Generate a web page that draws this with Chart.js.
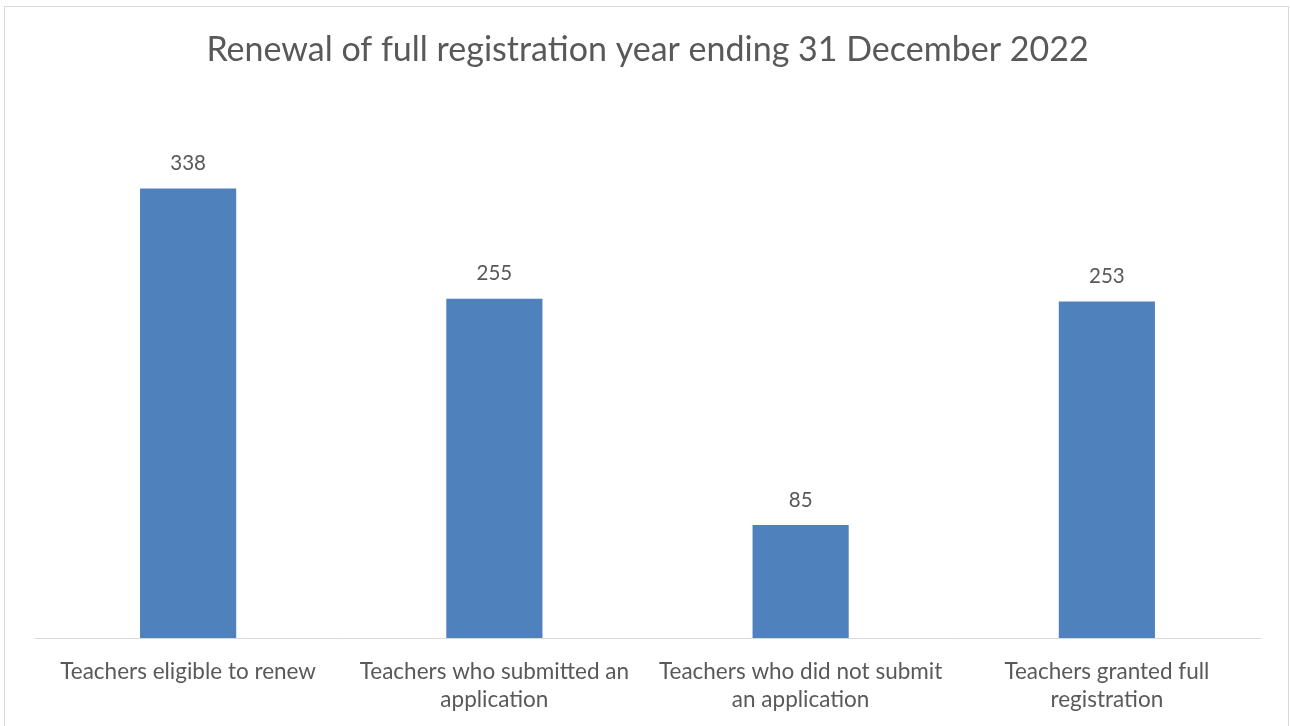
<!DOCTYPE html>
<html>
<head>
<meta charset="utf-8">
<title>Renewal of full registration</title>
<script src="https://cdn.jsdelivr.net/npm/chart.js@4"></script>
<style>
  html, body { margin: 0; padding: 0; background: #fff; }
  canvas { display: block; }
</style>
</head>
<body>
<canvas id="grafico" width="1290" height="726"></canvas>
<script>
const categorias = [
  'Teachers eligible to renew',
  ['Teachers who submitted an', 'application'],
  ['Teachers who did not submit', 'an application'],
  ['Teachers granted full', 'registration']
];
const valores = [338, 255, 85, 253];
const titulo = 'Renewal of full registration year ending 31 December 2022';

const corTexto = '#595959';
const corBarra = '#4f81bd';
const corLinha = '#d9d9d9';
const fonte = 'Lato, "Noto Sans", sans-serif';

// fundo branco e moldura cinza à volta do gráfico
const moldura = {
  id: 'moldura',
  beforeDraw(chart) {
    const ctx = chart.ctx;
    ctx.save();
    ctx.fillStyle = '#fff';
    ctx.fillRect(0, 0, chart.width, chart.height);
    ctx.restore();
  },
  afterDraw(chart) {
    const ctx = chart.ctx;
    ctx.save();
    ctx.strokeStyle = corLinha;
    ctx.lineWidth = 1;
    ctx.strokeRect(4.5, 6.5, 1284, 800);
    ctx.restore();
  }
};

// valor por cima de cada barra
const rotulos = {
  id: 'rotulos',
  afterDatasetsDraw(chart) {
    const ctx = chart.ctx;
    const meta = chart.getDatasetMeta(0);
    ctx.save();
    ctx.fillStyle = corTexto;
    ctx.font = '20.5px ' + fonte;
    ctx.textAlign = 'center';
    ctx.textBaseline = 'middle';
    meta.data.forEach((barra, i) => {
      ctx.fillText(String(valores[i]), barra.x, barra.y - 25);
    });
    ctx.restore();
  }
};

const ctx = document.getElementById('grafico').getContext('2d');
new Chart(ctx, {
  type: 'bar',
  data: {
    labels: categorias,
    datasets: [{
      label: 'Total',
      data: valores,
      backgroundColor: corBarra,
      borderWidth: 0,
      barPercentage: 1,
      categoryPercentage: 0.314
    }]
  },
  options: {
    responsive: false,
    animation: false,
    devicePixelRatio: 1,
    layout: { padding: { left: 35, right: 30, top: 0, bottom: 0 } },
    plugins: {
      legend: { display: false },
      tooltip: { enabled: false },
      title: {
        display: true,
        text: titulo,
        color: corTexto,
        font: { family: fonte, size: 34, weight: 'normal', lineHeight: 1.2 },
        padding: { top: 30, bottom: 35.2 }
      }
    },
    scales: {
      x: {
        grid: { display: false, drawTicks: false },
        border: { display: true, color: corLinha, width: 1 },
        ticks: {
          color: corTexto,
          padding: 20,
          maxRotation: 0,
          autoSkip: false,
          font: { family: fonte, size: 22.5, lineHeight: 1.244 }
        },
        afterFit(scale) { scale.height = 88; }
      },
      y: {
        display: false,
        min: 0,
        max: 400
      }
    }
  },
  plugins: [moldura, rotulos]
});
</script>
</body>
</html>
